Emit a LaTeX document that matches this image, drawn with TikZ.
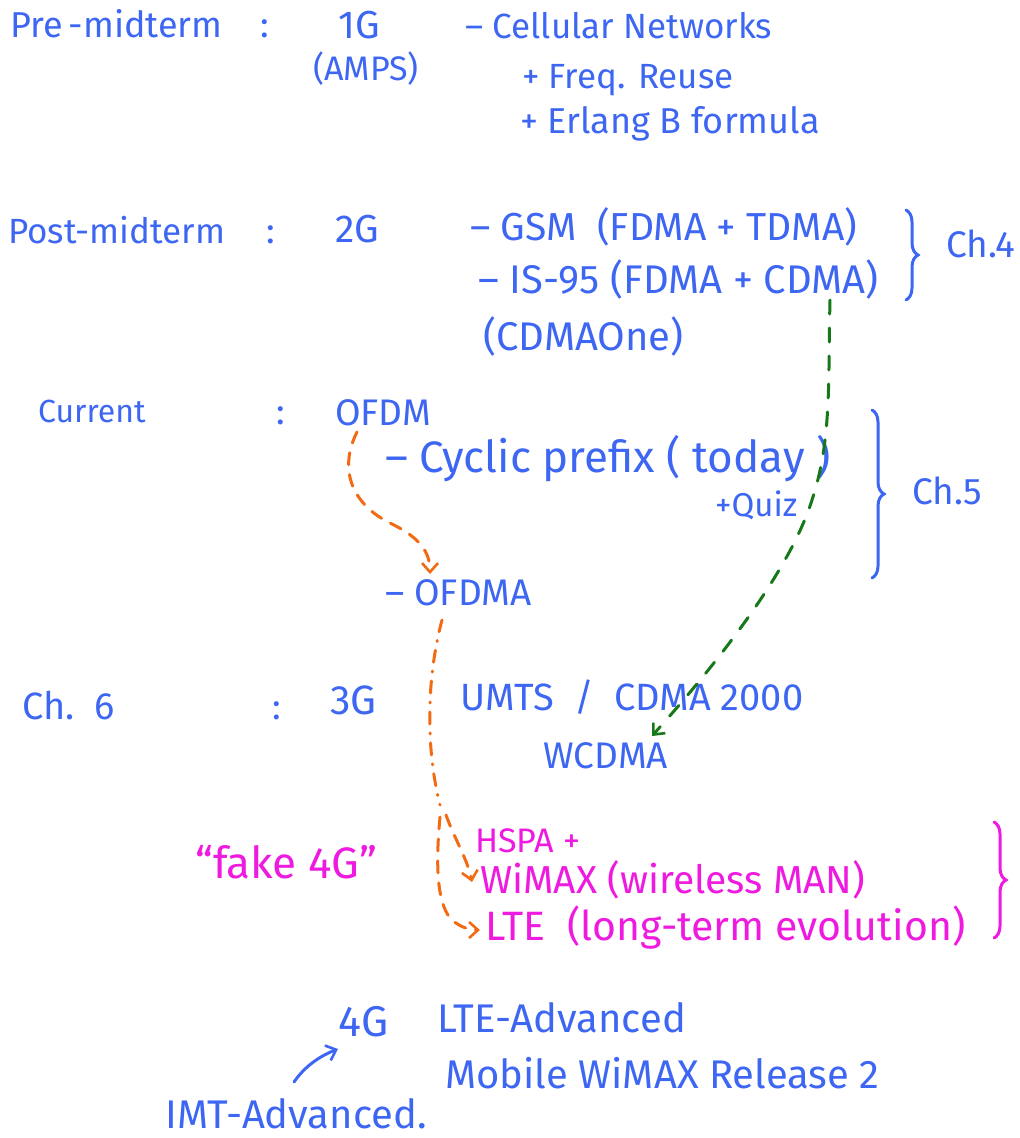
\documentclass[tikz,border=0pt]{standalone}
\usepackage{fontspec}
\setmainfont{Fira Sans}
\usetikzlibrary{arrows.meta,decorations.pathreplacing}
\definecolor{pen}{HTML}{3D66F2}
\definecolor{pink}{HTML}{EE1AE0}
\definecolor{orng}{HTML}{F26A12}
\definecolor{grn}{HTML}{17781A}
\tikzset{
  txt/.style={anchor=base west,inner sep=0pt,text=pen,font=\fontsize{#1}{#1}\selectfont},
  txt/.default=36,
  hot/.style={txt=#1,text=pink},
  hot/.default=39,
  pencurve/.style={line width=3pt,line cap=round},
  curl/.style={pencurve,decorate,decoration={brace,amplitude=12pt,aspect=0.5}},
  barb/.style={-{Straight Barb[length=9pt,width=16pt,line width=2.6pt]}},
  oline/.style={pencurve,draw=orng,dash pattern=on 12pt off 10pt},
  odot/.style={pencurve,draw=orng,dash pattern=on 12pt off 9pt on 1pt off 9pt},
  gline/.style={pencurve,draw=grn,dash pattern=on 14pt off 14pt},
}
\begin{document}
\begin{tikzpicture}[x=1pt,y=-1pt]
\useasboundingbox (0,0) rectangle (1020,1138);

% --- Pre-midterm
\node[txt=36] (pre) at (10,37) {Pre\,-midterm};
\node[txt] (c1) at (260,37) {:};
\node[txt=39] (g1) at (338,38) {1G};
\node[txt=34] (amps) at (313,80) {(AMPS)};
\node[txt=35] (cell) at (465,38) {– Cellular Networks};
\node[txt=35] (reuse) at (522,88) {+ Freq. Reuse};
\node[txt=36] (erl) at (520,133) {+ Erlang B formula};

% --- Post-midterm
\node[txt=35] (post) at (8,243) {Post-midterm};
\node[txt] (c2) at (266,243) {:};
\node[txt=39] (g2) at (335,242) {2G};
\node[txt=39] (gsm) at (470,240) {– GSM \ (FDMA + TDMA)};
\node[txt=40] (is95) at (478,293) {– IS-95 (FDMA + CDMA)};
\node[txt=40] (one) at (483,350) {(CDMAOne)};
\draw[curl,draw=pen] (906,210) -- (906,300);
\node[txt=37] (ch4) at (946,257) {Ch.4};

% --- Current
\node[txt=32] (cur) at (38,422) {Current};
\node[txt] (c3) at (276,424) {:};
\node[txt=37] (ofdm) at (335,425) {OFDM};
\node[txt=44] (cp) at (385,472) {– Cyclic prefix ( today )};
\node[txt=33] (quiz) at (715,516) {+Quiz};
\draw[curl,draw=pen] (872,410) -- (872,578);
\node[txt=37] (ch5) at (912,504) {Ch.5};
\node[txt=37] (ofdma) at (385,605) {– OFDMA};

% --- Ch. 6
\node[txt=38] (ch6) at (22,719) {Ch.\ \ 6};
\node[txt] (c4) at (272,719) {:};
\node[txt=41] (g3) at (330,714) {3G};
\node[txt=38] (umts) at (460,710) {UMTS \ / \ CDMA 2000};
\node[txt=37] (wcdma) at (543,768) {WCDMA};

% --- fake 4G
\node[hot=44] (fake) at (195,878) {“fake 4G”};
\node[hot=34] (hspa) at (475,852) {HSPA +};
\node[hot=39] (wimax) at (480,893) {WiMAX (wireless MAN)};
\node[hot=41] (lte) at (485,940) {LTE \ (long-term evolution)};
\draw[curl,draw=pink] (994,822) -- (994,938);

% --- 4G
\node[txt=43] (g4) at (338,1036) {4G};
\node[txt=40] (ltea) at (437,1032) {LTE-Advanced};
\node[txt=40] (mob) at (445,1088) {Mobile WiMAX Release 2};
\node[txt=40] (imt) at (165,1128) {IMT-Advanced.};

% --- connectors
\coordinate (o1) at (357,432);
\coordinate (o2) at (430,574);
\draw[oline,barb] (o1) .. controls (338,470) and (352,505) .. (392,524)
  .. controls (420,538) and (430,552) .. (o2);

\coordinate (o3) at (442,620);
\coordinate (fork) at (440,805);
\coordinate (o4) at (472,882);
\coordinate (o5) at (480,930);
\draw[odot] (o3) .. controls (426,680) and (426,750) .. (fork);
\draw[oline,barb] ([xshift=6pt,yshift=-10pt]fork) .. controls (455,840) and (467,858) .. (o4);
\draw[oline,barb] ([yshift=-12pt]fork) .. controls (436,860) and (436,900) .. (450,918)
  .. controls (458,926) and (468,930) .. (o5);

\coordinate (gs) at (830,300);
\coordinate (ge) at (652,736);
\draw[gline,barb] (gs) .. controls (828,380) and (832,440) .. (812,500)
  .. controls (790,570) and (720,660) .. (ge);

\coordinate (bs) at (294,1082);
\coordinate (be) at (338,1049);
\draw[pencurve,draw=pen,barb] (bs) .. controls (305,1066) and (320,1056) .. (be);
\end{tikzpicture}
\end{document}
